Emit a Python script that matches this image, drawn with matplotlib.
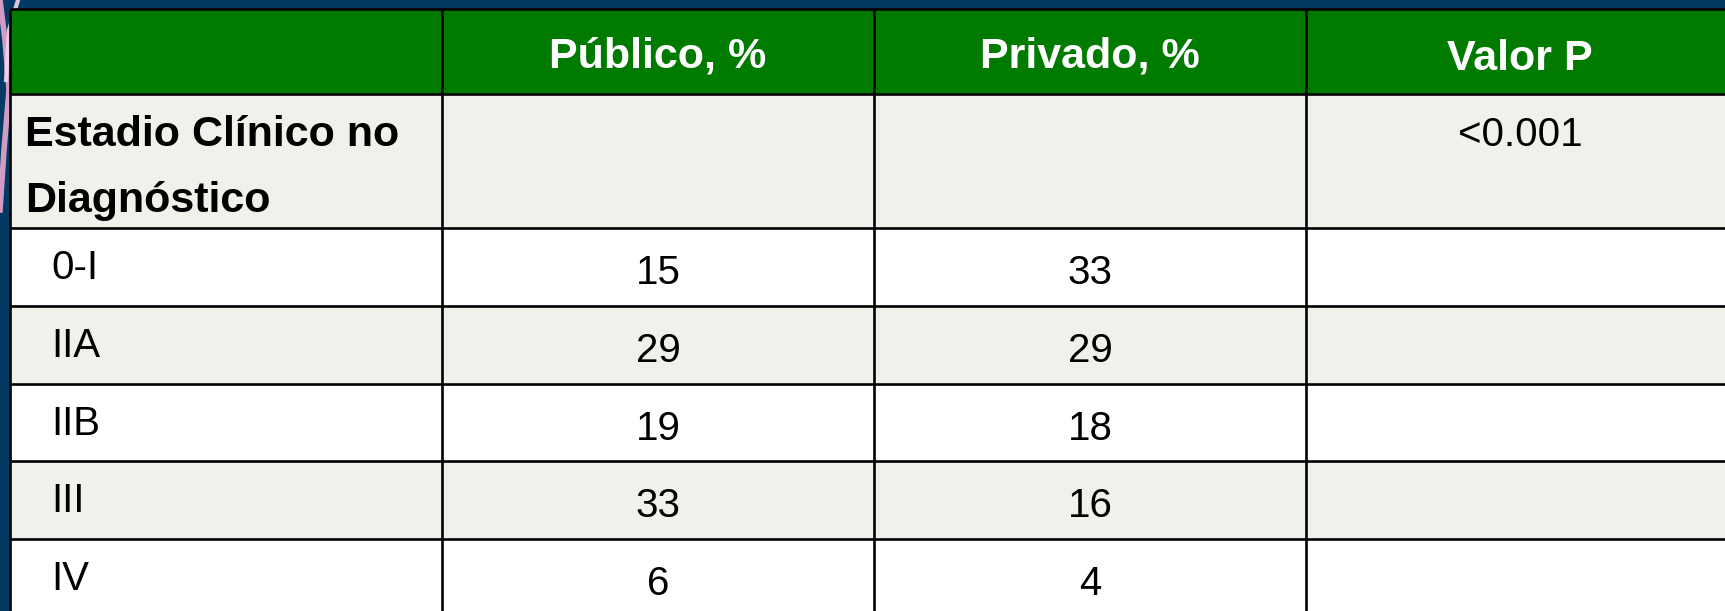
import matplotlib
matplotlib.use('Agg')
import matplotlib.pyplot as plt
from matplotlib.patches import Rectangle

# table content
headers = ["", "Público, %", "Privado, %", "Valor P"]
group_label = ["Estadio Clínico no", "Diagnóstico"]
p_value = "<0.001"
stages = ["0-I", "IIA", "IIB", "III", "IV"]
publico = [15, 29, 19, 33, 6]
privado = [33, 29, 18, 16, 4]

# layout in pixels (figure is 1725x611 at dpi 100)
W, H = 1725, 611
col_edges = [10, 442, 874, 1306, W + 20]
header_top, header_bot = 9, 94
group_bot = 228
row_h = 77.8

GREEN = "#007b00"
LIGHT = "#eff2ea"
NAVY = "#023a63"
PINK = "#e9a6cf"

plt.rcParams['font.family'] = ['Liberation Sans', 'DejaVu Sans']

fig = plt.figure(figsize=(W / 100, H / 100), dpi=100)
fig.patch.set_facecolor(NAVY)
ax = fig.add_axes([0, 0, 1, 1])
ax.set_xlim(0, W)
ax.set_ylim(H, 0)
ax.axis('off')

# a bit of the slide's pink decoration on the left edge (behind the table)
ax.plot([0, 5, 9, 4, 0], [0, 40, 90, 150, 210], color=PINK, lw=4, alpha=0.9, zorder=0)
ax.plot([18, 9, 6], [0, 30, 80], color="#f4d6ea", lw=3, alpha=0.9, zorder=0)

x0, x1 = col_edges[0], col_edges[-1]

# row backgrounds
ax.add_patch(Rectangle((x0, header_top), x1 - x0, header_bot - header_top, color=GREEN, zorder=1))
ax.add_patch(Rectangle((x0, header_bot), x1 - x0, group_bot - header_bot, color=LIGHT, zorder=1))
row_tops = [group_bot + i * row_h for i in range(len(stages))]
for i, top in enumerate(row_tops):
    ax.add_patch(Rectangle((x0, top), x1 - x0, row_h,
                           color=LIGHT if i % 2 == 1 else "white", zorder=1))

# grid lines
for y in [header_top, header_bot, group_bot] + row_tops[1:] + [row_tops[-1] + row_h]:
    ax.plot([x0, x1], [y, y], color="black", lw=1.9, zorder=3, solid_capstyle='butt')
for x in col_edges[:-1]:
    ax.plot([x, x], [header_top, H + 10], color="black", lw=1.9, zorder=3, solid_capstyle='butt')

centers = [(col_edges[i] + col_edges[i + 1]) / 2 for i in range(4)]
centers[3] = 1520

FS = 29
FS_BOLD = 31
# header
for i, h in enumerate(headers):
    if not h:
        continue
    base = 70 if i == 3 else 67
    ax.text(centers[i], base, h, ha="center", va="baseline", fontsize=FS_BOLD,
            fontweight="bold", color="white", zorder=4)

# group row
ax.text(25, 146, group_label[0], ha="left", va="baseline", fontsize=FS_BOLD, fontweight="bold", zorder=4)
ax.text(25, 212, group_label[1], ha="left", va="baseline", fontsize=FS_BOLD, fontweight="bold", zorder=4)
ax.text(centers[3], 146, p_value, ha="center", va="baseline", fontsize=FS, zorder=4)

# stage rows
for top, stage, pub, priv in zip(row_tops, stages, publico, privado):
    ax.text(51, top + 51, stage, ha="left", va="baseline", fontsize=FS, zorder=4)
    ax.text(centers[1], top + 56, str(pub), ha="center", va="baseline", fontsize=FS, zorder=4)
    ax.text(centers[2], top + 56, str(priv), ha="center", va="baseline", fontsize=FS, zorder=4)

fig.savefig("out.png", dpi=100, facecolor=NAVY)
